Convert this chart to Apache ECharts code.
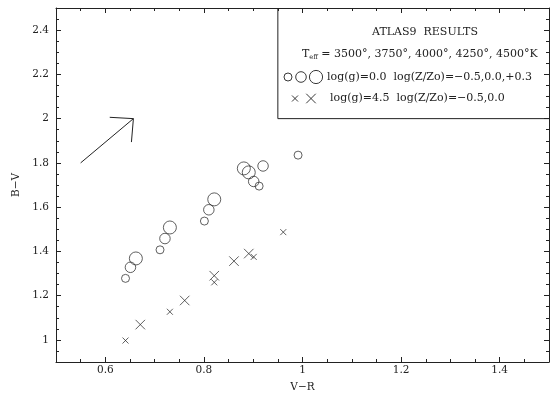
<!DOCTYPE html>
<html><head><meta charset="utf-8">
<script src="https://cdn.jsdelivr.net/npm/echarts@6/dist/echarts.min.js"></script>
<style>html,body{margin:0;padding:0;background:#fff}#c{width:560px;height:398px}</style>
</head><body><div id="c"></div>
<script>
// ---- data ----
const circleVR   = [0.641,0.651,0.662, 0.711,0.721,0.731, 0.801,0.810,0.821, 0.881,0.891,0.901,0.912,0.920,0.991];
const circleBV   = [1.278,1.328,1.368, 1.407,1.458,1.508, 1.537,1.588,1.635, 1.775,1.757,1.716,1.695,1.786,1.835];
const circleLogZ = [-0.5,0.0,0.3, -0.5,0.0,0.3, -0.5,0.0,0.3, 0.3,0.3,0.0,-0.5,0.0,-0.5];
const crossVR    = [0.641,0.671,0.731,0.761,0.821,0.821,0.861,0.891,0.901,0.961];
const crossBV    = [0.997,1.069,1.127,1.178,1.290,1.260,1.356,1.390,1.375,1.487];
const crossLogZ  = [-0.5,0.0,-0.5,0.0,0.0,-0.5,0.0,0.0,-0.5,-0.5];
const arrowShaft = [[0.55,1.8],[0.657,2.0]];
const arrowHead  = [[0.609,2.006],[0.657,2.0],[0.653,1.894]];
const legendBox  = [[0.95,2.5],[0.95,2.0],[1.5,2.0]];
const xTickLabels = ['0.6','0.8','1','1.2','1.4'];
const yTickLabels = ['1','1.2','1.4','1.6','1.8','2','2.2','2.4'];
const legendTitle = 'ATLAS9  RESULTS';
const legendTeff  = ' = 3500°, 3750°, 4000°, 4250°, 4500°K';
const legendGiant = 'log(g)=0.0  log(Z/Zo)=−0.5,0.0,+0.3';
const legendDwarf = 'log(g)=4.5  log(Z/Zo)=−0.5,0.0';

// ---- styling ----
const FONT = '"DejaVu Serif", serif';
const INK = '#222';
const circleSize = z => z < -0.2 ? 8 : (z < 0.15 ? 10.5 : 13);
const crossSize  = z => z < -0.2 ? 6 : 9.5;
const CROSS = 'path://M0,0L10,10M0,10L10,0';

const chart = echarts.init(document.getElementById('c'), null, {renderer:'canvas'});
const fmt = list => v => { const s = String(Math.round(v*100)/100); return list.includes(s) ? s : ''; };

function axisBase(labels, show) {
  return {
    type:'value', interval:0.05,
    axisLine:{show:true, onZero:false, lineStyle:{color:INK, width:1}},
    axisTick:{show:true, inside:true, length:3, lineStyle:{color:INK, width:1}},
    splitLine:{show:false},
    axisLabel:{show:show, formatter:fmt(labels), color:INK, fontFamily:FONT, fontSize:10.5},
  };
}
function majorOverlay(labels, min, max, position) {
  return {
    type:'value', min, max, interval:0.05, position, offset:0,
    axisLine:{show:false, onZero:false},
    axisTick:{show:true, inside:true, length:5, customValues:labels.map(Number), lineStyle:{color:INK, width:1}},
    axisLabel:{show:false}, splitLine:{show:false}
  };
}
const xMain = Object.assign(axisBase(xTickLabels, true), {min:0.5, max:1.5, position:'bottom',
  name:'V−R', nameLocation:'middle', nameGap:20, nameTextStyle:{color:INK, fontFamily:FONT, fontSize:10.5}});
xMain.axisLabel.margin = 3;
const xTop = Object.assign(axisBase(xTickLabels, false), {min:0.5, max:1.5, position:'top'});
const yMain = Object.assign(axisBase(yTickLabels, true), {min:0.9, max:2.5, position:'left',
  name:'B−V', nameLocation:'middle', nameGap:34, nameTextStyle:{color:INK, fontFamily:FONT, fontSize:10.5}});
yMain.axisLabel.margin = 7;
const yRight = Object.assign(axisBase(yTickLabels, false), {min:0.9, max:2.5, position:'right'});

function crossLines(cx, cy, s) {
  const h = s/2;
  return [
    {type:'line', shape:{x1:cx-h,y1:cy-h,x2:cx+h,y2:cy+h}, style:{stroke:INK, lineWidth:0.9}},
    {type:'line', shape:{x1:cx-h,y1:cy+h,x2:cx+h,y2:cy-h}, style:{stroke:INK, lineWidth:0.9}}
  ];
}
const txt = (x, y, text, align) => ({type:'text', x, y, style:{text, fill:INK, font:'11px '+FONT, textAlign:align||'left', textVerticalAlign:'middle'}});

const graphic = [
  txt(425, 32, legendTitle, 'center'),
  {type:'text', x:302, y:54, style:{text:'{t|T}{s|eff}{t|'+legendTeff+'}', fill:INK, textVerticalAlign:'middle',
     rich:{t:{fontFamily:FONT, fontSize:11, fill:INK}, s:{fontFamily:FONT, fontSize:6.5, fill:INK, padding:[6,0,0,0]}}}},
  {type:'circle', shape:{cx:288, cy:77, r:4}, style:{fill:'none', stroke:INK, lineWidth:0.9}},
  {type:'circle', shape:{cx:301, cy:77, r:5.3}, style:{fill:'none', stroke:INK, lineWidth:0.9}},
  {type:'circle', shape:{cx:316, cy:77, r:6.6}, style:{fill:'none', stroke:INK, lineWidth:0.9}},
  txt(327, 77, legendGiant),
  ...crossLines(295, 98.5, 6),
  ...crossLines(311, 98.5, 9.5),
  txt(330, 98.5, legendDwarf),
];

chart.setOption({
  animation:false,
  backgroundColor:'#fff',
  grid:{left:56, right:11, top:8, bottom:34, containLabel:false},
  xAxis:[xMain, xTop, majorOverlay(xTickLabels,0.5,1.5,'bottom'), majorOverlay(xTickLabels,0.5,1.5,'top')],
  yAxis:[yMain, yRight, majorOverlay(yTickLabels,0.9,2.5,'left'), majorOverlay(yTickLabels,0.9,2.5,'right')],
  graphic,
  series:[
    {type:'scatter', xAxisIndex:0, yAxisIndex:0, symbol:'circle',
     data: circleVR.map((x,i)=>({value:[x, circleBV[i]], symbolSize:circleSize(circleLogZ[i])})),
     itemStyle:{color:'rgba(0,0,0,0)', borderColor:INK, borderWidth:0.9}, emphasis:{disabled:true}},
    {type:'scatter', xAxisIndex:0, yAxisIndex:0, symbol:CROSS,
     data: crossVR.map((x,i)=>({value:[x, crossBV[i]], symbolSize:crossSize(crossLogZ[i])})),
     itemStyle:{color:'rgba(0,0,0,0)', borderColor:INK, borderWidth:0.9}, emphasis:{disabled:true}},
    {type:'line', xAxisIndex:0, yAxisIndex:0, data:arrowShaft, symbol:'none', lineStyle:{color:INK, width:1}, silent:true},
    {type:'line', xAxisIndex:0, yAxisIndex:0, data:arrowHead, symbol:'none', lineStyle:{color:INK, width:1}, silent:true},
    {type:'line', xAxisIndex:0, yAxisIndex:0, data:legendBox, symbol:'none', clip:false, lineStyle:{color:INK, width:1}, silent:true},
  ]
});
</script></body></html>
